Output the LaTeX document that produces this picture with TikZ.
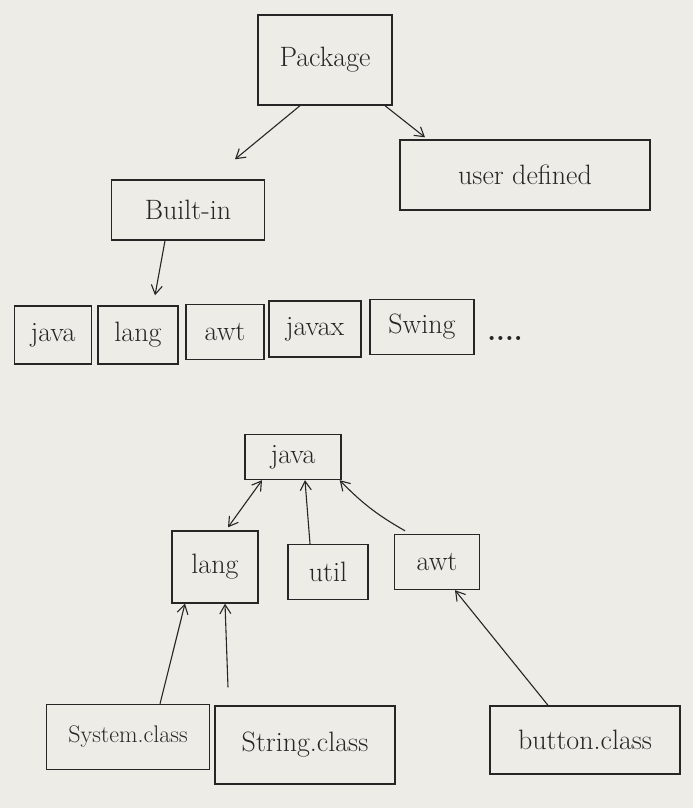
\documentclass[tikz,border=0pt]{standalone}
\usetikzlibrary{arrows.meta,calc}
\definecolor{paper}{HTML}{EDECE7}
\definecolor{ink}{HTML}{262626}
\begin{document}
\begin{tikzpicture}[x=1pt,y=-1pt,
  box/.style={draw=ink,line width=1.4pt,inner sep=2pt,text=ink,
    font=\fontsize{28}{32}\selectfont},
  arr/.style={draw=ink,line width=1.1pt,-{Straight Barb[length=9pt,width=11pt]}},
  darr/.style={draw=ink,line width=1.1pt,{Straight Barb[length=9pt,width=11pt]}-{Straight Barb[length=9pt,width=11pt]}}]
\fill[paper] (0,0) rectangle (693,808);
\useasboundingbox (0,0) rectangle (693,808);

% top level
\node[box,minimum width=134pt,minimum height=90pt] (pkg) at (325,60) {Package};
\node[box,minimum width=250pt,minimum height=70pt] (user) at (525,175) {user defined};
\node[box,minimum width=153pt,minimum height=60pt] (built) at (188,210) {Built-in};

% built-in packages
\node[box,minimum width=77pt,minimum height=58pt] (java1) at (53,335) {java};
\node[box,minimum width=80pt,minimum height=58pt] (lang1) at (138,335) {lang};
\node[box,minimum width=78pt,minimum height=55pt] (awt1) at (225,332) {awt};
\node[box,minimum width=92pt,minimum height=56pt] (javax) at (315,329) {javax};
\node[box,minimum width=104pt,minimum height=55pt] (swing) at (422,327) {Swing};
\node[text=ink,font=\fontsize{28}{32}\selectfont] (dots) at (505,338) {\textbf{....}};

% hierarchy
\node[box,minimum width=96pt,minimum height=45pt] (java2) at (293,457) {java};
\node[box,minimum width=86pt,minimum height=72pt] (lang2) at (215,567) {lang};
\node[box,minimum width=80pt,minimum height=55pt] (util) at (328,572) {util};
\node[box,minimum width=85pt,minimum height=55pt] (awt2) at (437,562) {awt};
\node[box,minimum width=163pt,minimum height=65pt,font=\fontsize{24}{28}\selectfont] (sys) at (128,737) {System.class};
\node[box,minimum width=180pt,minimum height=78pt] (str) at (305,745) {String.class};
\node[box,minimum width=190pt,minimum height=68pt] (btn) at (585,740) {button.class};

% connectors
\draw[arr] ([xshift=-25pt]pkg.south) -- ([xshift=47pt,yshift=20pt]built.north);
\draw[arr] ([xshift=60pt]pkg.south) -- ([xshift=-100pt,yshift=2pt]user.north);
\draw[arr] ([xshift=-23pt]built.south) -- ([xshift=17pt,yshift=10pt]lang1.north);

\draw[darr] ([xshift=-31pt]java2.south) -- ([xshift=13pt,yshift=3pt]lang2.north);
\draw[arr] ([xshift=-18pt]util.north) -- ([xshift=12pt]java2.south);
\draw[arr] ([xshift=-32pt,yshift=3pt]awt2.north) to[bend left=8] ([xshift=-2pt]java2.south east);
\draw[arr] ([xshift=32pt]sys.north) -- ([xshift=-30pt]lang2.south);
\draw[arr] ([xshift=-77pt,yshift=18pt]str.north) -- ([xshift=10pt]lang2.south);
\draw[arr] ([xshift=-37pt]btn.north) -- ([xshift=18pt]awt2.south);
\end{tikzpicture}
\end{document}
